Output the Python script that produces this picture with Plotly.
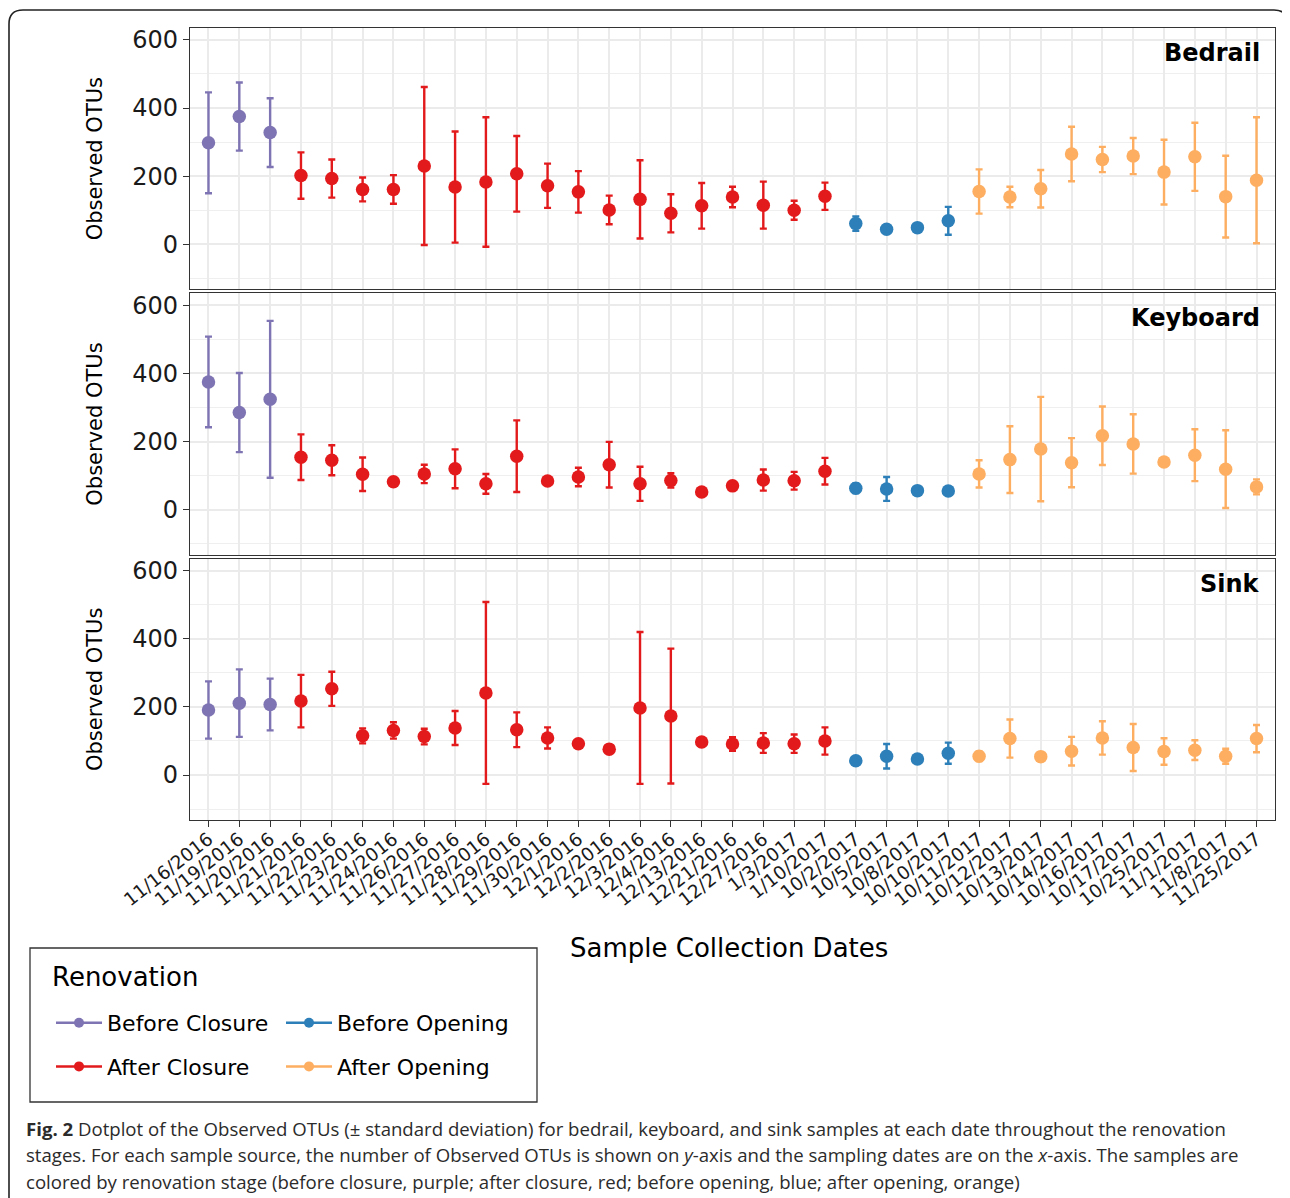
import plotly.graph_objects as go

# ---------------- data ----------------
dates = ["11/16/2016", "11/19/2016", "11/20/2016", "11/21/2016", "11/22/2016",
         "11/23/2016", "11/24/2016", "11/26/2016", "11/27/2016", "11/28/2016",
         "11/29/2016", "11/30/2016", "12/1/2016", "12/2/2016", "12/3/2016",
         "12/4/2016", "12/13/2016", "12/21/2016", "12/27/2016", "1/3/2017",
         "1/10/2017", "10/2/2017", "10/5/2017", "10/8/2017", "10/10/2017",
         "10/11/2017", "10/12/2017", "10/13/2017", "10/14/2017", "10/16/2017",
         "10/17/2017", "10/25/2017", "11/1/2017", "11/8/2017", "11/25/2017"]

stages = (["Before Closure"] * 3 + ["After Closure"] * 18 +
          ["Before Opening"] * 4 + ["After Opening"] * 10)

stage_names = ["Before Closure", "After Closure", "Before Opening", "After Opening"]

bedrail_mean = [298, 375, 328, 202, 193, 161, 161, 230, 168, 183, 207, 172, 154, 101, 132,
                91, 113, 139, 115, 100, 141, 61, 44, 49, 69, 155, 139, 163, 265, 249,
                259, 212, 257, 140, 188]
bedrail_sd = [148, 100, 101, 68, 56, 35, 42, 232, 163, 190, 111, 65, 61, 42, 115,
              56, 67, 30, 69, 28, 40, 21, 8, 6, 41, 65, 30, 55, 80, 37,
              53, 95, 100, 120, 185]

keyboard_mean = [375, 285, 324, 154, 145, 104, 82, 105, 120, 76, 157, 84, 96, 132, 76,
                 86, 52, 70, 87, 85, 113, 63, 61, 56, 55, 105, 147, 178, 138, 217,
                 193, 140, 160, 119, 67]
keyboard_sd = [133, 116, 230, 67, 44, 49, 8, 27, 57, 29, 105, 10, 27, 67, 50,
               21, 8, 8, 31, 26, 39, 14, 35, 6, 6, 40, 98, 153, 72, 86,
               87, 10, 76, 114, 22]

sink_mean = [191, 211, 207, 217, 253, 115, 131, 113, 138, 241, 133, 109, 92, 76, 197,
             173, 97, 91, 94, 92, 100, 42, 55, 47, 64, 55, 107, 54, 70, 109,
             81, 69, 73, 55, 107]
sink_sd = [84, 99, 76, 77, 50, 22, 24, 23, 50, 267, 51, 31, 10, 10, 223,
           198, 12, 20, 29, 27, 40, 8, 36, 8, 31, 14, 56, 8, 42, 49,
           69, 39, 29, 22, 40]

panel_names = ["Bedrail", "Keyboard", "Sink"]
y_ticks = [0, 200, 400, 600]

# ---------------- styles ----------------
stage_colors = {"Before Closure": "#7F74B3", "After Closure": "#E31A1C",
                "Before Opening": "#2C7FB8", "After Opening": "#FDAE61"}
FONT = "DejaVu Sans, Liberation Sans, Arial, sans-serif"
OFF = 8                      # page body margin
W, H = 1290 - OFF, 1198 - OFF
L, R, T, B = 190, 1275, 28, 820   # plot area in reference-page pixels


def px(x):
    return (x - L) / (R - L)


def py(y):
    return (B - y) / (B - T)


domains = [[py(289.3), 1.0], [py(554.7), py(293.3)], [0.0, py(558.7)]]

fig = go.Figure()
panel_data = [(bedrail_mean, bedrail_sd), (keyboard_mean, keyboard_sd), (sink_mean, sink_sd)]

for p, (means, sds) in enumerate(panel_data):
    sfx = "" if p == 0 else str(p + 1)
    for st in stage_names:
        idx = [i for i, s in enumerate(stages) if s == st]
        fig.add_trace(go.Scatter(
            x=[dates[i] for i in idx], y=[means[i] for i in idx],
            mode="markers",
            marker=dict(color=stage_colors[st], size=13.5),
            error_y=dict(type="data", array=[sds[i] for i in idx], visible=True,
                         color=stage_colors[st], thickness=2.4, width=3.5),
            xaxis="x" + sfx, yaxis="y" + sfx, showlegend=False,
            hovertemplate="%{x}: %{y}<extra>" + st + "</extra>"))

# legend entries (line + point glyph)
for st in stage_names:
    fig.add_trace(go.Scatter(
        x=[None], y=[None], mode="lines+markers", name=st,
        line=dict(color=stage_colors[st], width=2.5),
        marker=dict(color=stage_colors[st], size=10),
        legend="legend" if st in ("Before Closure", "After Closure") else "legend2",
        legendgroup=st, xaxis="x3", yaxis="y3"))

axis_common = dict(showline=True, mirror=True, linecolor="#333333", linewidth=1.3,
                   gridcolor="#EBEBEB", gridwidth=1.6, zeroline=False)

layout = dict(
    width=W, height=H, plot_bgcolor="white", paper_bgcolor="white",
    margin=dict(l=L - OFF, r=W - (R - OFF), t=T - OFF, b=H - (B - OFF)),
    font=dict(family=FONT, color="#000000"),
    showlegend=True,
)

for p in range(3):
    sfx = "" if p == 0 else str(p + 1)
    xa = dict(axis_common, type="category", categoryorder="array", categoryarray=dates,
              range=[-0.6, 34.6], domain=[0, 1], anchor="y" + sfx,
              showticklabels=(p == 2), ticks="outside" if p == 2 else "",
              ticklen=6, tickwidth=1.3, tickcolor="#333333")
    if p == 2:
        xa.update(tickangle=-38, ticklabelstandoff=-6,
                  tickfont=dict(size=18.5, color="#1a1a1a", family=FONT))
    else:
        xa.update(matches="x3")
    ya = dict(axis_common, range=[-132, 635], domain=domains[p], anchor="x" + sfx,
              tickvals=y_ticks, ticks="outside", ticklen=6, tickwidth=1.3, tickcolor="#333333",
              tickfont=dict(size=24, color="#1a1a1a", family=FONT),
              minor=dict(dtick=100, tick0=0, showgrid=True, gridcolor="#EFEFEF", gridwidth=1,
                         ticks=""),
              title=dict(text="Observed OTUs", font=dict(size=21, family=FONT), standoff=23))
    layout["xaxis" + sfx] = xa
    layout["yaxis" + sfx] = ya

legend_common = dict(xanchor="left", yanchor="top", xref="paper", yref="paper",
                     bgcolor="rgba(0,0,0,0)", borderwidth=0, tracegroupgap=12,
                     itemwidth=46, font=dict(size=22, family=FONT))
layout["legend"] = dict(legend_common, x=px(51), y=py(1002))
layout["legend2"] = dict(legend_common, x=px(281), y=py(1002))

fig.update_layout(**layout)

# x-axis title
fig.add_annotation(text="Sample Collection Dates", xref="paper", yref="paper",
                   x=px(729), y=py(948), xanchor="center", yanchor="middle",
                   showarrow=False, font=dict(size=26, family=FONT, color="#000000"))

# legend title
fig.add_annotation(text="Renovation", xref="paper", yref="paper",
                   x=px(50), y=py(977), xanchor="left", yanchor="middle",
                   showarrow=False, font=dict(size=26, family=FONT, color="#000000"))

# panel labels
for p, name in enumerate(panel_names):
    sfx = "" if p == 0 else str(p + 1)
    fig.add_annotation(text="<b>" + name + "</b>", xref="x" + sfx + " domain",
                       yref="y" + sfx + " domain", x=0.988, y=0.965,
                       xanchor="right", yanchor="top", showarrow=False,
                       font=dict(size=24, family=FONT, color="#000000"))

# legend box
fig.add_shape(type="rect", xref="paper", yref="paper", x0=px(30), x1=px(537),
              y0=py(1102), y1=py(948), line=dict(color="#333333", width=1.3))

# outer figure frame (rounded)
r = 14
x0, x1, y0, y1 = 9, 1288, 10, 1240
path = (f"M {px(x0 + r)},{py(y0)} L {px(x1 - r)},{py(y0)} "
        f"Q {px(x1)},{py(y0)} {px(x1)},{py(y0 + r)} L {px(x1)},{py(y1)} "
        f"L {px(x0)},{py(y1)} L {px(x0)},{py(y0 + r)} "
        f"Q {px(x0)},{py(y0)} {px(x0 + r)},{py(y0)} Z")
fig.add_shape(type="path", path=path, xref="paper", yref="paper",
              line=dict(color="#222222", width=1.6))

# caption
caption = [
    "<b>Fig. 2</b> Dotplot of the Observed OTUs (± standard deviation) for bedrail, keyboard, "
    "and sink samples at each date throughout the renovation",
    "stages. For each sample source, the number of Observed OTUs is shown on <i>y</i>-axis and "
    "the sampling dates are on the <i>x</i>-axis. The samples are",
    "colored by renovation stage (before closure, purple; after closure, red; before opening, "
    "blue; after opening, orange)",
]
for i, line in enumerate(caption):
    fig.add_annotation(text=line, xref="paper", yref="paper", x=px(24), y=py(1128 + 26.5 * i),
                       xanchor="left", yanchor="middle", showarrow=False, align="left",
                       font=dict(size=18.6, family="Open Sans, sans-serif", color="#2b2b2b"))

fig.write_html("out.html")
